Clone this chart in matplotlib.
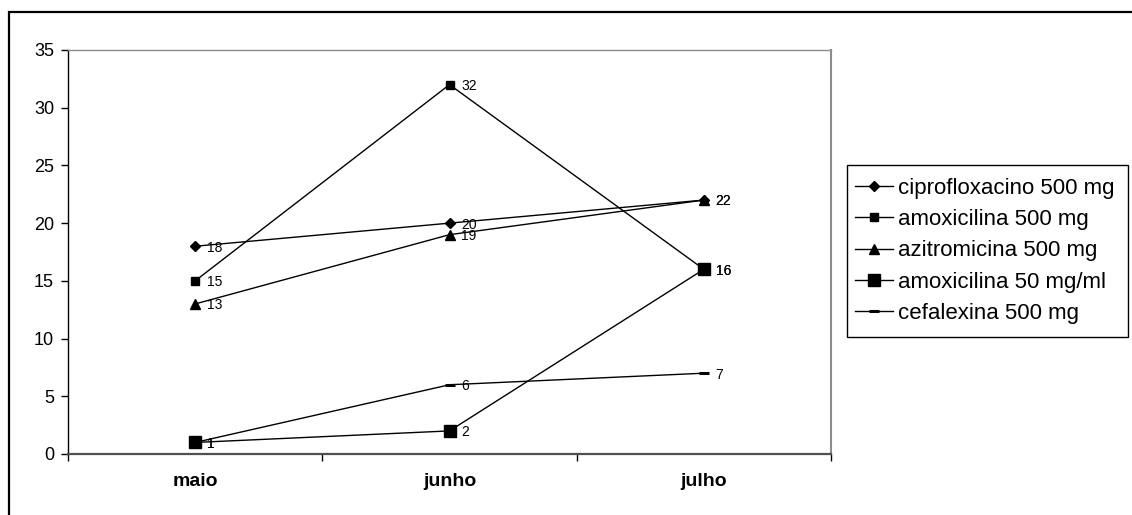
import matplotlib
matplotlib.use("Agg")
import matplotlib.pyplot as plt
from matplotlib.patches import Rectangle

plt.rcParams['font.family'] = ['Liberation Sans', 'DejaVu Sans']

months = ["maio", "junho", "julho"]
series_names = [
    "ciprofloxacino 500 mg",
    "amoxicilina 500 mg",
    "azitromicina 500 mg",
    "amoxicilina 50 mg/ml",
    "cefalexina 500 mg",
]
cipro = [18, 20, 22]
amox500 = [15, 32, 16]
azitro = [13, 19, 22]
amox50 = [1, 2, 16]
cefalexina = [1, 6, 7]
y_ticks = [0, 5, 10, 15, 20, 25, 30, 35]

series_values = [cipro, amox500, azitro, amox50, cefalexina]
styles = [
    dict(marker='D', markersize=4.6),
    dict(marker='s', markersize=5.5),
    dict(marker='^', markersize=7),
    dict(marker='s', markersize=9),
    dict(marker='_', markersize=7, markeredgewidth=2.2),
]

W, H = 1132, 515
fig = plt.figure(figsize=(W / 100, H / 100), dpi=100)
fig.patch.set_facecolor('white')

ax = fig.add_axes([68 / W, (H - 454) / H, (831 - 68) / W, (454 - 50) / H])
x = list(range(len(months)))

handles = []
for name, vals, st in zip(series_names, series_values, styles):
    h, = ax.plot(x, vals, color='black', lw=1.0, markerfacecolor='black',
                 markeredgecolor='black', label=name, clip_on=False, **st)
    handles.append(h)
    for xi, v in zip(x, vals):
        ax.annotate(str(v), (xi, v), xytext=(8.5, -1), textcoords='offset points',
                    ha='left', va='center', fontsize=10, color='black',
                    zorder=5)

ax.set_xlim(-0.5, len(months) - 0.5)
ax.set_ylim(0, 35)
ax.set_yticks(y_ticks)
ax.set_yticklabels([str(t) for t in y_ticks], fontsize=13)
ax.tick_params(axis='y', direction='out', length=5, width=1, pad=5, color='black')

# category boundaries carry the tick marks, labels sit at the category centres
ax.set_xticks([i - 0.5 for i in range(len(months) + 1)])
ax.set_xticklabels([])
ax.set_xticks(x, minor=True)
ax.set_xticklabels(months, minor=True, fontsize=14, fontweight='bold')
ax.tick_params(axis='x', which='major', direction='out', length=5, width=1,
               color='black')
ax.tick_params(axis='x', which='minor', length=0, pad=14)

ax.spines['left'].set_color('black')
ax.spines['left'].set_linewidth(1.0)
ax.spines['top'].set_color('#8c8c8c')
ax.spines['top'].set_linewidth(1.0)
ax.spines['right'].set_color('#8c8c8c')
ax.spines['right'].set_linewidth(1.5)
ax.spines['bottom'].set_color('#505050')
ax.spines['bottom'].set_linewidth(1.6)

# legend box drawn separately so its padding can differ per side
fig.add_artist(Rectangle((847 / W, (H - 337) / H), (1128 - 847) / W, (337 - 165) / H,
                         transform=fig.transFigure, fill=False,
                         edgecolor='black', linewidth=1.0))
leg = fig.legend(handles=handles, loc='upper left',
                 bbox_to_anchor=(855 / W, (H - 178) / H),
                 borderaxespad=0, fontsize=16, frameon=False,
                 handlelength=1.7, handletextpad=0.22, labelspacing=0.46,
                 borderpad=0)

# outer chart frame
fig.add_artist(Rectangle((8.5 / W, -0.2), 1.5, (H - 12) / H + 0.2,
                         transform=fig.transFigure, fill=False,
                         edgecolor='black', linewidth=1.6))

fig.savefig("out.png", dpi=100, facecolor='white')
